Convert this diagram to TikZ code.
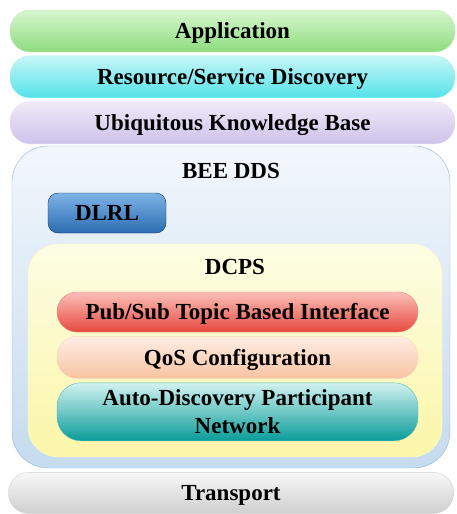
\documentclass[tikz,border=0pt]{standalone}
\usepackage{fontspec}
\setmainfont{Liberation Serif}
\usepackage{xcolor}
\usetikzlibrary{positioning}

\definecolor{appTop}{HTML}{D8F6D0}
\definecolor{appBot}{HTML}{8EDC7E}
\definecolor{discTop}{HTML}{C8F6F6}
\definecolor{discBot}{HTML}{52E2EA}
\definecolor{ukbTop}{HTML}{F0EAF8}
\definecolor{ukbBot}{HTML}{CEC2EA}
\definecolor{beeTop}{HTML}{F2F7FC}
\definecolor{beeBot}{HTML}{C6DBEF}
\definecolor{beeLine}{HTML}{93B6D6}
\definecolor{dlrlTop}{HTML}{7DB4E6}
\definecolor{dlrlBot}{HTML}{2C6CB2}
\definecolor{dcpsTop}{HTML}{FDFDE4}
\definecolor{dcpsBot}{HTML}{FBF6A8}
\definecolor{pubTop}{HTML}{FAC0B8}
\definecolor{pubBot}{HTML}{E84840}
\definecolor{qosTop}{HTML}{FEEEE4}
\definecolor{qosBot}{HTML}{F8C4A2}
\definecolor{autoTop}{HTML}{D2F2F0}
\definecolor{autoBot}{HTML}{0A9C9A}
\definecolor{trTop}{HTML}{F8F8F8}
\definecolor{trBot}{HTML}{CFCFCF}

\begin{document}
\begin{tikzpicture}[x=1pt, y=1pt,
    layer/.style={draw, rectangle, rounded corners=20pt, minimum width=445pt, minimum height=42pt,
        inner sep=0pt, text height=15.2pt, text depth=0pt, font=\bfseries\fontsize{23}{28}\selectfont},
    sublayer/.style={layer, minimum width=361pt},
    container/.style={draw, rectangle, inner sep=0pt},
    caption/.style={inner sep=0pt, font=\bfseries\fontsize{23}{28}\selectfont},
    node distance=3.5pt
]
    \useasboundingbox (0,0) rectangle (456,-514);

    % upper layers
    \node[layer, top color=appTop, bottom color=appBot, draw=appBot!50] (app) at (232.5,-31) {Application};
    \node[layer, top color=discTop, bottom color=discBot, draw=discBot!50, below=of app] (disc) {Resource/Service Discovery};
    \node[layer, top color=ukbTop, bottom color=ukbBot, draw=ukbBot!60, below=of disc] (ukb) {Ubiquitous Knowledge Base};

    % middleware
    \node[container, rounded corners=36pt, minimum width=438pt, minimum height=322pt,
        top color=beeTop, bottom color=beeBot, draw=beeLine] (bee) at (231,-307) {};
    \node[caption] (beetitle) at (231,-171) {BEE DDS};
    \node[layer, rounded corners=10pt, minimum width=118pt, minimum height=40pt,
        top color=dlrlTop, bottom color=dlrlBot, draw=dlrlBot!50!black] (dlrl) at (107,-213) {DLRL};

    \node[container, rounded corners=30pt, minimum width=414pt, minimum height=213pt,
        top color=dcpsTop, bottom color=dcpsBot, draw=dcpsBot!60] (dcps) at (235,-350.5) {};
    \node[caption] (dcpstitle) at (235,-267) {DCPS};
    \node[sublayer, minimum height=40pt, top color=pubTop, bottom color=pubBot, draw=pubBot!70]
        (pubsub) at (237.5,-312) {Pub/Sub Topic Based Interface};
    \node[sublayer, top color=qosTop, bottom color=qosBot, draw=qosBot!70, below=4pt of pubsub]
        (qos) {QoS Configuration};
    \node[sublayer, rounded corners=24pt, minimum height=58pt, align=center, text height={}, text depth={},
        top color=autoTop, bottom color=autoBot, draw=autoBot!70, below=4pt of qos]
        (autodisc) {Auto-Discovery Participant\\Network};

    % bottom layer
    \node[layer, minimum height=41pt, top color=trTop, bottom color=trBot, draw=trBot, below=4pt of bee] (transport) {Transport};
\end{tikzpicture}
\end{document}
